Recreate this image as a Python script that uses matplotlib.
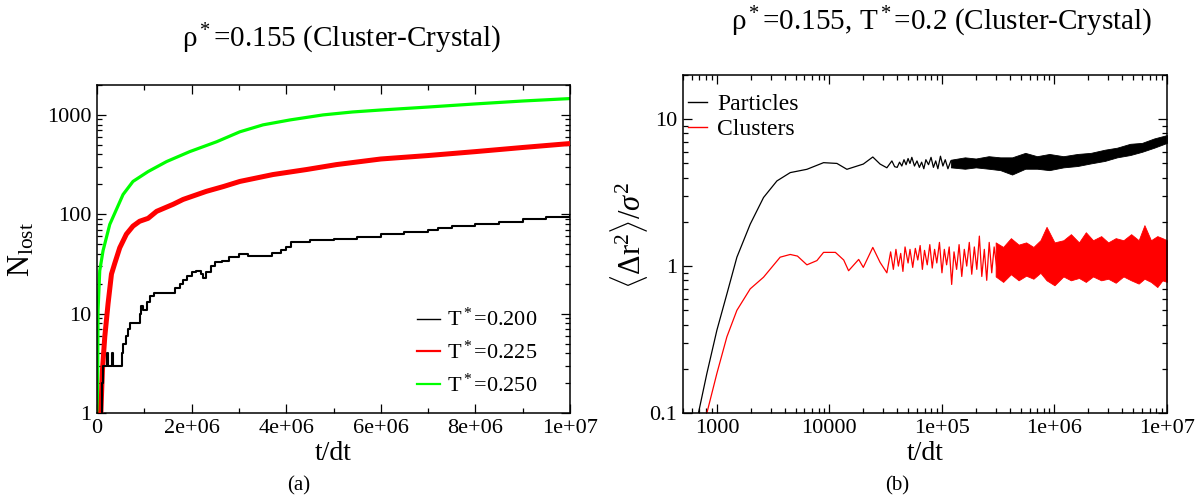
import matplotlib
matplotlib.use("Agg")
import matplotlib.pyplot as plt
from matplotlib.lines import Line2D

plt.rcParams["font.family"] = "Liberation Serif"
plt.rcParams["mathtext.fontset"] = "custom"
plt.rcParams["mathtext.rm"] = "Liberation Serif"
plt.rcParams["mathtext.it"] = "Liberation Serif:italic"
plt.rcParams["mathtext.bf"] = "Liberation Serif:bold"

# ---- panel (a): number of lost particles vs time ----
t_black = [1.0e5, 1.1e5, 1.3e5, 2.2e5, 2.4e5, 3.2e5, 3.4e5, 5.2e5, 5.5e5, 6.2e5, 6.6e5,
           7.0e5, 8.5e5, 9.0e5, 9.3e5, 9.8e5, 1.05e6, 1.12e6, 1.2e6, 1.57e6, 1.65e6, 1.75e6,
           1.82e6, 1.9e6, 2.0e6, 2.1e6, 2.2e6, 2.25e6, 2.3e6, 2.4e6, 2.5e6, 2.65e6, 2.8e6,
           3.0e6, 3.2e6, 3.5e6, 3.7e6, 3.9e6, 4.0e6, 4.1e6, 4.5e6, 5.0e6, 5.5e6, 6.0e6,
           6.5e6, 7.0e6, 7.2e6, 7.5e6, 8.0e6, 8.5e6, 9.0e6, 9.5e6, 1.0e7]
n_black = [1, 2, 3, 4, 3, 4, 3, 4, 5, 6, 7,
           8, 8, 10, 12, 11, 13, 15, 16, 16, 18, 20,
           22, 24, 26, 27, 25, 23, 26, 30, 33, 34, 37,
           40, 38, 38, 41, 44, 47, 53, 55, 56, 59, 63,
           67, 69, 73, 76, 80, 83, 89, 93, 98]

t_red = [8e4, 1.14e5, 1.63e5, 2.33e5, 3.05e5, 3.74e5, 4.8e5, 6.2e5, 7.6e5, 9.0e5, 1.08e6,
         1.26e6, 1.61e6, 1.82e6, 2.31e6, 2.67e6, 3.02e6, 3.72e6, 4.43e6, 5.06e6, 6.0e6,
         7.0e6, 8.0e6, 9.0e6, 1.0e7]
n_red = [1, 2.7, 5.8, 12.6, 25, 32, 46, 63, 76, 85, 91,
         107, 126, 141, 170, 190, 214, 251, 282, 316, 360,
         390, 427, 470, 515]

t_green = [1e4, 2.1e4, 5.7e4, 1.27e5, 2.69e5, 5.5e5, 7.6e5, 1.08e6, 1.47e6, 1.96e6, 2.53e6,
           3.02e6, 3.51e6, 4.08e6, 4.78e6, 5.4e6, 6.0e6, 7.0e6, 8.0e6, 9.0e6, 1.0e7]
n_green = [1, 10.7, 27, 43, 79, 158, 214, 269, 339, 427, 537,
           676, 794, 890, 1000, 1070, 1120, 1200, 1290, 1380, 1460]

a_labels = [r"T$^*$=0.200", r"T$^*$=0.225", r"T$^*$=0.250"]
a_xticks = [0, 2e6, 4e6, 6e6, 8e6, 1e7]
a_xticklabels = ["0", "2e+06", "4e+06", "6e+06", "8e+06", "1e+07"]
a_yticks = [1, 10, 100, 1000]
a_yticklabels = ["1", "10", "100", "1000"]

# ---- panel (b): mean squared displacement ----
# smooth start + oscillating part, black (particles)
bk_t = [686, 815, 1000, 1227, 1506, 1978, 2597, 3415, 4485, 6310, 8870, 11660, 14300,
        20000, 24300, 28200, 32400, 35900, 38000,
        40e3, 42e3, 44e3, 46e3, 48e3, 50e3, 52e3, 54e3, 57e3, 60e3, 63e3, 66e3, 69e3,
        72e3, 76e3, 80e3, 84e3, 88e3, 92e3, 97e3, 102e3, 107e3, 113e3, 120e3]
bk_msd = [0.1, 0.186, 0.366, 0.646, 1.15, 1.93, 2.93, 3.8, 4.33, 4.56, 5.06, 5.0, 4.56,
          4.95, 5.53, 4.95, 4.67, 5.2, 4.75,
          4.7, 5.1, 4.8, 5.3, 4.9, 5.4, 5.0, 5.5, 4.8, 5.2, 4.7, 5.1, 4.6,
          5.3, 4.9, 5.5, 4.7, 5.2, 4.6, 5.6, 4.8, 5.3, 4.6, 5.2]
# noisy band at late times (lower / upper edge)
bk_band_t = [1.2e5, 1.6e5, 2e5, 2.6e5, 3.3e5, 4.2e5, 5.5e5, 7e5, 9e5, 1.2e6, 1.6e6,
             2.1e6, 2.8e6, 3.6e6, 4.7e6, 6e6, 7.7e6, 1e7]
bk_hi = [5.3, 5.5, 5.4, 5.6, 5.5, 5.5, 5.9, 5.6, 5.8, 5.6, 5.8, 5.9, 6.2, 6.4, 6.8, 6.9, 7.4, 7.8]
bk_lo = [4.7, 4.6, 4.7, 4.6, 4.5, 4.2, 4.6, 4.6, 4.5, 4.7, 4.8, 5.0, 5.2, 5.5, 5.7, 6.0, 6.4, 6.9]

# red (clusters)
rd_t = [815, 1000, 1227, 1506, 1978, 2597, 3650, 4485, 5200, 6310, 7740, 8870, 11300,
        13400, 14800, 18200, 20000, 24300, 28200, 32400,
        35e3, 37e3, 39e3, 41e3, 43e3, 45e3, 47e3, 50e3, 52e3, 55e3, 58e3, 61e3, 64e3,
        67e3, 70e3, 74e3, 78e3, 82e3, 86e3, 90e3, 95e3, 100e3, 105e3, 110e3, 116e3,
        122e3, 128e3, 135e3, 142e3, 150e3, 158e3, 166e3, 175e3, 184e3, 194e3, 204e3,
        215e3, 226e3, 238e3, 250e3, 263e3, 277e3, 291e3, 306e3]
rd_msd = [0.1, 0.186, 0.33, 0.5, 0.7, 0.84, 1.15, 1.2, 1.17, 1.02, 1.09, 1.24, 1.24,
          1.1, 0.93, 1.11, 0.98, 1.34, 1.06, 0.9,
          1.25, 0.95, 1.3, 1.0, 1.22, 0.92, 1.35, 1.05, 1.3, 0.98, 1.32, 1.1, 1.38,
          0.95, 1.28, 1.02, 1.4, 0.97, 1.3, 1.05, 1.45, 0.9, 1.3, 1.02, 1.35,
          0.75, 1.25, 0.95, 1.4, 0.85, 1.3, 1.0, 1.45, 0.88, 1.35, 0.95,
          1.6, 0.85, 1.3, 0.8, 1.45, 0.9, 1.35, 1.0]
rd_band_t = [3.0e5, 3.5e5, 4.1e5, 4.8e5, 5.6e5, 6.5e5, 7.5e5, 8.5e5, 1.0e6, 1.2e6, 1.4e6,
             1.65e6, 1.9e6, 2.2e6, 2.6e6, 3.0e6, 3.5e6, 4.1e6, 4.8e6, 5.6e6, 6.3e6,
             7.2e6, 8.2e6, 9.1e6, 1.0e7]
rd_hi = [1.45, 1.35, 1.55, 1.4, 1.45, 1.35, 1.5, 1.85, 1.45, 1.5, 1.65, 1.45, 1.7,
         1.5, 1.6, 1.45, 1.55, 1.5, 1.65, 1.5, 1.9, 1.5, 1.6, 1.55, 1.5]
rd_lo = [0.85, 0.78, 0.88, 0.8, 0.86, 0.82, 0.9, 0.8, 0.74, 0.85, 0.8, 0.83, 0.78,
         0.85, 0.8, 0.82, 0.77, 0.85, 0.8, 0.76, 0.82, 0.78, 0.72, 0.8, 0.78]

b_labels = ["Particles", "Clusters"]
b_xticks = [1e3, 1e4, 1e5, 1e6, 1e7]
b_xticklabels = ["1000", "10000", "1e+05", "1e+06", "1e+07"]
b_yticks = [0.1, 1, 10]
b_yticklabels = ["0.1", "1", "10"]

GREEN = "#00ff00"
RED = "#ff0000"

fig = plt.figure(figsize=(12.01, 4.95), dpi=100)
ax1 = fig.add_axes([0.0808, 0.1657, 0.3938, 0.6626])
ax2 = fig.add_axes([0.5687, 0.1657, 0.4030, 0.6828])


def style(ax):
    for s in ax.spines.values():
        s.set_linewidth(1.1)
    ax.tick_params(which="both", direction="in", top=True, right=True,
                   labelsize=16, width=0.9)
    ax.tick_params(which="major", length=6.5, pad=4)
    ax.tick_params(which="minor", length=3.3)


# panel (a)
ax1.plot(t_green, n_green, color=GREEN, lw=2.3, zorder=2)
ax1.plot(t_red, n_red, color=RED, lw=3.6, zorder=3)
ax1.step(t_black, n_black, where="post", color="black", lw=1.5, zorder=4)
ax1.set_yscale("log")
ax1.set_xlim(0, 1e7)
ax1.set_ylim(1, 2000)
ax1.set_xticks(a_xticks, a_xticklabels)
ax1.set_xticks([1e6, 3e6, 5e6, 7e6, 9e6], minor=True)
ax1.set_yticks(a_yticks, a_yticklabels)
style(ax1)
h1 = [Line2D([], [], color=c, lw=w) for c, w in [("black", 1.0), (RED, 1.6), (GREEN, 1.6)]]
ax1.legend(h1, a_labels, loc="lower right", bbox_to_anchor=(0.96, 0.01), frameon=False,
           fontsize=16, handlelength=1.0, handletextpad=0.35, labelspacing=0.42,
           borderaxespad=0.2)

# panel (b)
ax2.plot(bk_t, bk_msd, color="black", lw=0.9, zorder=3)
ax2.fill_between(bk_band_t, bk_lo, bk_hi, color="black", lw=0.6, zorder=3)
ax2.plot(rd_t, rd_msd, color=RED, lw=0.9, zorder=2)
ax2.fill_between(rd_band_t, rd_lo, rd_hi, color=RED, lw=0.6, zorder=2)
ax2.set_xscale("log")
ax2.set_yscale("log")
ax2.set_xlim(500, 1e7)
ax2.set_ylim(0.1, 20)
ax2.set_xticks(b_xticks, b_xticklabels)
ax2.set_yticks(b_yticks, b_yticklabels)
style(ax2)
h2 = [Line2D([], [], color=c, lw=1.0) for c in ["black", RED]]
ax2.legend(h2, b_labels, loc="upper left", bbox_to_anchor=(0.0, 0.958), frameon=False,
           fontsize=17, handlelength=0.8, handletextpad=0.45, labelspacing=0.12,
           borderaxespad=0.0, borderpad=0.2)

# titles, axis labels, sub-captions
fig.text(0.284, 0.906, "ρ$^*$=0.155 (Cluster-Crystal)", ha="center", va="baseline", fontsize=21)
fig.text(0.784, 0.939, "ρ$^*$=0.155, T$^*$=0.2 (Cluster-Crystal)", ha="center",
         va="baseline", fontsize=21)
fig.text(0.2777, 0.071, "t/dt", ha="center", va="baseline", fontsize=20)
fig.text(0.770, 0.071, "t/dt", ha="center", va="baseline", fontsize=20)
fig.text(0.018, 0.495, r"N$_{\rm lost}$", rotation=90, ha="center", va="center", fontsize=22)
fig.text(0.524, 0.525, r"$\langle\Delta \mathrm{r}^2\rangle/\sigma^2$", rotation=90,
         ha="center", va="center", fontsize=22)
fig.text(0.249, 0.01, "(a)", ha="center", va="baseline", fontsize=15)
fig.text(0.747, 0.01, "(b)", ha="center", va="baseline", fontsize=15)

fig.savefig("out.png", dpi=100)
